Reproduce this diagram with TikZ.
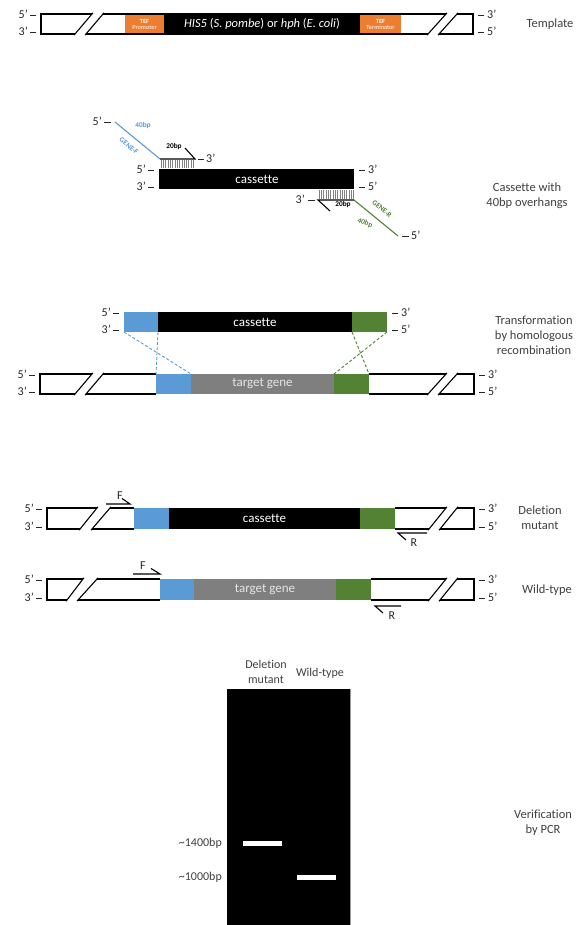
\documentclass[tikz,border=0pt]{standalone}
\usepackage{fontspec}
\setmainfont[Ligatures=NoCommon]{Carlito}
\definecolor{torange}{HTML}{ED7D31}
\definecolor{tblue}{HTML}{5B9BD5}
\definecolor{tgreen}{HTML}{548235}
\definecolor{tgray}{HTML}{7F7F7F}
\definecolor{ttext}{HTML}{404040}
\tikzset{
  strand/.style={line width=1.1pt, draw=black, line join=miter},
  slash/.style={strand, shorten <=-1.5pt, shorten >=-1.5pt},
  endlbl/.style={font=\fontsize{12}{12}\selectfont, inner sep=0pt, text=black!85},
  endtick/.style={line width=0.9pt, draw=black!85},
  sidelbl/.style={font=\fontsize{12.5}{15}\selectfont, text=ttext, align=center, inner sep=0pt},
  boxtxt/.style={font=\fontsize{13}{13}\selectfont, text=white, inner sep=0pt},
  tinytxt/.style={font=\fontsize{6.3}{7}\selectfont, text=white, align=center, inner sep=0pt},
  ohlbl/.style={font=\bfseries\fontsize{7.3}{7.3}\selectfont, inner sep=0pt},
  hatch/.style={line width=0.35pt, draw=black!50},
  primer/.style={line width=1.1pt, draw=black},
  hdash/.style={dashed, line width=0.9pt, dash pattern=on 3pt off 2pt},
}
% left broken piece: xL s1t s1b s2t s2b xR yt yb
\newcommand\leftpart[8]{%
  \draw[strand] (#2,#7) -- (#1,#7) -- (#1,#8) -- (#3,#8);
  \draw[slash] (#2,#7) -- (#3,#8);
  \draw[slash] (#4,#7) -- (#5,#8);
  \draw[strand] (#4,#7) -- (#6,#7) (#5,#8) -- (#6,#8);
}
% right broken piece: xL s1t s1b s2t s2b xR yt yb
\newcommand\rightpart[8]{%
  \draw[strand] (#1,#7) -- (#2,#7) (#1,#8) -- (#3,#8);
  \draw[slash] (#2,#7) -- (#3,#8);
  \draw[slash] (#4,#7) -- (#5,#8);
  \draw[strand] (#4,#7) -- (#6,#7) -- (#6,#8) -- (#5,#8);
}
% terminus labels left of x: name x yt yb
\newcommand\termsL[4]{%
  \coordinate (#1a1) at ({#2-11},{#3+1.5}); \coordinate (#1a2) at ({#2-5},{#3+1.5});
  \coordinate (#1b1) at ({#2-11},{#4-2}); \coordinate (#1b2) at ({#2-5},{#4-2});
  \draw[endtick] (#1a1) -- (#1a2);
  \draw[endtick] (#1b1) -- (#1b2);
  \node[endlbl, anchor=east] (#1t) at ({#2-13},{#3+0.5}) {5’};
  \node[endlbl, anchor=east] (#1b) at ({#2-13},{#4-3}) {3’};
}
% terminus labels right of x
\newcommand\termsR[4]{%
  \coordinate (#1a1) at ({#2+5},{#3+1.5}); \coordinate (#1a2) at ({#2+11},{#3+1.5});
  \coordinate (#1b1) at ({#2+5},{#4-2}); \coordinate (#1b2) at ({#2+11},{#4-2});
  \draw[endtick] (#1a1) -- (#1a2);
  \draw[endtick] (#1b1) -- (#1b2);
  \node[endlbl, anchor=west] (#1t) at ({#2+14},{#3+0.5}) {3’};
  \node[endlbl, anchor=west] (#1b) at ({#2+14},{#4-3}) {5’};
}
\begin{document}
\begin{tikzpicture}[x=1pt,y=-1pt]
\useasboundingbox (0,0) rectangle (581,925);
\fill[white] (0,0) rectangle (581,925);

% ---------------- Template ----------------
\leftpart{41}{92}{75}{103}{86}{125}{14}{34}
\fill[torange] (125,14) rectangle (164,34);
\node[tinytxt] (tefp) at (144.5,24) {\textbf{TEF}\\[-1pt]Promoter};
\fill[black] (164,14) rectangle (360,34);
\node[boxtxt, font=\fontsize{12.5}{12.5}\selectfont] (his) at (262,24) {\textit{HIS5} (\textit{S. pombe}) or \textit{hph} (\textit{E. coli})};
\fill[torange] (360,14) rectangle (401,34);
\node[tinytxt] (teft) at (380.5,24) {\textbf{TEF}\\[-1pt]Terminator};
\draw[strand] (125,14) -- (401,14) (125,34) -- (401,34);
\rightpart{401}{446}{428}{457}{439}{473}{14}{34}
\termsL{tl}{41}{14}{34}
\termsR{tr}{473}{14}{34}
\node[sidelbl] (lbltemplate) at (550,24) {Template};

% ---------------- Cassette with overhangs ----------------
\fill[black] (159,169) rectangle (354,189);
\node[boxtxt] (cas1) at (257,179) {cassette};
\termsL{cl}{159}{169}{189}
\termsR{cr}{354}{169}{189}
% forward primer
\coordinate (f0) at (115,122);
\coordinate (f1) at (160,159);
\coordinate (f2) at (195,159);
\coordinate (f3) at (185,148);
\foreach \x in {161,163.3,...,195} \draw[hatch] (\x,160) -- (\x,168);
\draw[line width=1.1pt, tblue] (f0) -- (f1);
\draw[primer] (f1) -- (f2) -- (f3);
\node[ohlbl, text=tblue] (f40) at (143,125.5) {40bp};
\node[ohlbl, text=tblue, rotate=-39.4] (gf) at (129,146) {GENE-F};
\node[ohlbl] (f20) at (174,147) {20bp};
\coordinate (fd1) at (198,159); \coordinate (fd2) at (204,159);
\draw[endtick] (fd1) -- (fd2);
\node[endlbl, anchor=west] (f3lbl) at (206,158) {3’};
\coordinate (fd3) at (104,122); \coordinate (fd4) at (111,122);
\draw[endtick] (fd3) -- (fd4);
\node[endlbl, anchor=east] (f5lbl) at (102,121) {5’};
% reverse primer
\coordinate (r0) at (398,236);
\coordinate (r1) at (354,200);
\coordinate (r2) at (318,200);
\coordinate (r3) at (330,211);
\foreach \x in {319,321.3,...,354} \draw[hatch] (\x,190) -- (\x,199);
\draw[line width=1.1pt, tgreen] (r0) -- (r1);
\draw[primer] (r1) -- (r2) -- (r3);
\node[ohlbl, text=tgreen, rotate=-39.4] (gr) at (382,209) {GENE-R};
\node[ohlbl, text=tgreen, rotate=-20] (r40) at (365,223) {40bp};
\node[ohlbl] (r20) at (343,205) {20bp};
\coordinate (rd1) at (308,200); \coordinate (rd2) at (315,200);
\draw[endtick] (rd1) -- (rd2);
\node[endlbl, anchor=east] (r3lbl) at (305,199) {3’};
\coordinate (rd3) at (402,236); \coordinate (rd4) at (409,236);
\draw[endtick] (rd3) -- (rd4);
\node[endlbl, anchor=west] (r5lbl) at (411,235) {5’};
\node[sidelbl] (lblcas) at (527,196) {Cassette with\\40bp overhangs};

% ---------------- Transformation ----------------
\fill[tblue] (124,312) rectangle (158,332);
\fill[black] (158,312) rectangle (352,332);
\fill[tgreen] (352,312) rectangle (387,332);
\node[boxtxt] (cas2) at (255,322) {cassette};
\termsL{xl}{124}{312}{332}
\termsR{xr}{387}{312}{332}
\leftpart{40}{92}{75}{103}{86}{156}{374}{394}
\fill[tblue] (156,374) rectangle (191,394);
\fill[tgray] (191,374) rectangle (334,394);
\fill[tgreen] (334,374) rectangle (369,394);
\node[boxtxt, text=black!10] (tg1) at (262.5,384) {target gene};
\rightpart{369}{446}{428}{457}{439}{474}{374}{394}
\termsL{gl}{40}{374}{394}
\termsR{gr}{474}{374}{394}
\draw[hdash, tblue] (124,332) -- (191,374);
\draw[hdash, tblue] (158,332) -- (156,374);
\draw[hdash, tgreen] (352,332) -- (369,374);
\draw[hdash, tgreen] (387,332) -- (334,374);
\node[sidelbl] (lbltrans) at (534,335) {Transformation\\by homologous\\recombination};

% ---------------- Deletion mutant ----------------
\leftpart{47}{97}{80}{110}{92}{134}{508}{529}
\fill[tblue] (134,508) rectangle (169,529);
\fill[black] (169,508) rectangle (360,529);
\fill[tgreen] (360,508) rectangle (395,529);
\node[boxtxt] (cas3) at (264.5,518.5) {cassette};
\rightpart{395}{446}{429}{457}{440}{474}{508}{529}
\termsL{dl}{47}{508}{529}
\termsR{dr}{474}{508}{529}
\coordinate (df0) at (106,504); \coordinate (df1) at (130,504); \coordinate (df2) at (122,498.5);
\draw[primer] (df0) -- (df1) -- (df2);
\node[endlbl] (dfl) at (120,496) {F};
\coordinate (dr0) at (427,533); \coordinate (dr1) at (398,533); \coordinate (dr2) at (406,540);
\draw[primer] (dr0) -- (dr1) -- (dr2);
\node[endlbl] (drl) at (414,543) {R};
\node[sidelbl] (lbldel) at (540,518) {Deletion\\mutant};

% ---------------- Wild-type ----------------
\leftpart{47}{83}{67}{97}{78}{160}{579}{600}
\fill[tblue] (160,579) rectangle (194,600);
\fill[tgray] (194,579) rectangle (336,600);
\fill[tgreen] (336,579) rectangle (371,600);
\node[boxtxt, text=black!10] (tg2) at (265,589.5) {target gene};
\rightpart{371}{446}{429}{457}{440}{474}{579}{600}
\termsL{wl}{47}{579}{600}
\termsR{wr}{474}{579}{600}
\coordinate (wf0) at (133,574); \coordinate (wf1) at (160,574); \coordinate (wf2) at (151,568.5);
\draw[primer] (wf0) -- (wf1) -- (wf2);
\node[endlbl] (wfl) at (143,566) {F};
\coordinate (wr0) at (401,606); \coordinate (wr1) at (375,606); \coordinate (wr2) at (383,613);
\draw[primer] (wr0) -- (wr1) -- (wr2);
\node[endlbl] (wrl) at (392,616) {R};
\node[sidelbl] (lblwt) at (547,590) {Wild-type};

% ---------------- Gel ----------------
\fill[black] (227,689) rectangle (350,925);
\draw[black!40, line width=0.4pt] (350,689) -- (350,925);
\fill[white] (243,841) rectangle (282,845.5);
\fill[white] (297,875) rectangle (336,879.5);
\node[sidelbl, font=\fontsize{12}{14.5}\selectfont] (gdel) at (266,672) {Deletion\\mutant};
\node[sidelbl, font=\fontsize{12}{14.5}\selectfont] (gwt) at (320,673) {Wild-type};
\node[sidelbl, font=\fontsize{12}{14}\selectfont, anchor=east] (g1400) at (222,843) {\textasciitilde1400bp};
\node[sidelbl, font=\fontsize{12}{14}\selectfont, anchor=east] (g1000) at (222,877) {\textasciitilde1000bp};
\node[sidelbl] (lblpcr) at (543,823) {Verification\\by PCR};
\end{tikzpicture}
\end{document}
